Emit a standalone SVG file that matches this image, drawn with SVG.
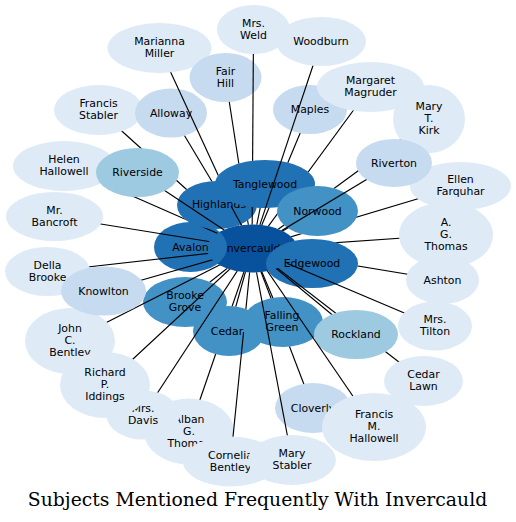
<svg xmlns="http://www.w3.org/2000/svg" width="516" height="522" viewBox="0 0 516 522">
<style>
.c0{fill:#deebf7}.c1{fill:#c6dbef}.c2{fill:#9ecae1}.c3{fill:#4292c6}.c4{fill:#2171b5}.c5{fill:#08519c}
text{font-family:"DejaVu Sans","Liberation Sans",sans-serif;font-size:10.9px;text-anchor:middle;fill:#000}
text.title{font-family:"DejaVu Serif","Liberation Serif",serif;font-size:18.8px}
#connectors line{stroke:#000;stroke-width:1.15;fill:none}
mask rect{fill:#fff}
mask ellipse{fill:#000}
</style>
<defs>
<mask id="m-inv" maskUnits="userSpaceOnUse" x="0" y="0" width="516" height="522"><rect width="516" height="522"/><ellipse cx="252" cy="248.5" rx="45" ry="24"/></mask>
<mask id="m-fst" maskUnits="userSpaceOnUse" x="0" y="0" width="516" height="522"><rect width="516" height="522"/><ellipse cx="98.5" cy="110" rx="44.5" ry="25"/><ellipse cx="137.5" cy="172.5" rx="41.5" ry="24.5"/><ellipse cx="217" cy="205" rx="40" ry="24"/></mask>
<mask id="m-all" maskUnits="userSpaceOnUse" x="0" y="0" width="516" height="522"><rect width="516" height="522"/><ellipse cx="171" cy="113" rx="36" ry="24.5"/><ellipse cx="217" cy="205" rx="40" ry="24"/><ellipse cx="265" cy="184" rx="50" ry="24"/></mask>
<mask id="m-mar" maskUnits="userSpaceOnUse" x="0" y="0" width="516" height="522"><rect width="516" height="522"/><ellipse cx="159.5" cy="48" rx="52" ry="25"/><ellipse cx="265" cy="184" rx="50" ry="24"/><ellipse cx="217" cy="205" rx="40" ry="24"/></mask>
<mask id="m-fai" maskUnits="userSpaceOnUse" x="0" y="0" width="516" height="522"><rect width="516" height="522"/><ellipse cx="225.5" cy="77.5" rx="36" ry="24.5"/><ellipse cx="265" cy="184" rx="50" ry="24"/><ellipse cx="217" cy="205" rx="40" ry="24"/></mask>
<mask id="m-wel" maskUnits="userSpaceOnUse" x="0" y="0" width="516" height="522"><rect width="516" height="522"/><ellipse cx="253.5" cy="29.5" rx="36.5" ry="24.5"/><ellipse cx="265" cy="184" rx="50" ry="24"/></mask>
<mask id="m-map" maskUnits="userSpaceOnUse" x="0" y="0" width="516" height="522"><rect width="516" height="522"/><ellipse cx="310" cy="109.5" rx="37" ry="24.5"/><ellipse cx="265" cy="184" rx="50" ry="24"/></mask>
<mask id="m-woo" maskUnits="userSpaceOnUse" x="0" y="0" width="516" height="522"><rect width="516" height="522"/><ellipse cx="321" cy="41.5" rx="45" ry="24.5"/></mask>
<mask id="m-mag" maskUnits="userSpaceOnUse" x="0" y="0" width="516" height="522"><rect width="516" height="522"/><ellipse cx="370.5" cy="87" rx="53.5" ry="25"/><ellipse cx="265" cy="184" rx="50" ry="24"/><ellipse cx="317.5" cy="211" rx="40.5" ry="25"/></mask>
<mask id="m-kir" maskUnits="userSpaceOnUse" x="0" y="0" width="516" height="522"><rect width="516" height="522"/><ellipse cx="429" cy="119" rx="36" ry="34"/><ellipse cx="394" cy="163" rx="38" ry="24"/><ellipse cx="317.5" cy="211" rx="40.5" ry="25"/></mask>
<mask id="m-ell" maskUnits="userSpaceOnUse" x="0" y="0" width="516" height="522"><rect width="516" height="522"/><ellipse cx="460.5" cy="186" rx="50.5" ry="24"/><ellipse cx="317.5" cy="211" rx="40.5" ry="25"/></mask>
<mask id="m-rvt" maskUnits="userSpaceOnUse" x="0" y="0" width="516" height="522"><rect width="516" height="522"/><ellipse cx="394" cy="163" rx="38" ry="24"/></mask>
<mask id="m-nor" maskUnits="userSpaceOnUse" x="0" y="0" width="516" height="522"><rect width="516" height="522"/><ellipse cx="317.5" cy="211" rx="40.5" ry="25"/></mask>
<mask id="m-tan" maskUnits="userSpaceOnUse" x="0" y="0" width="516" height="522"><rect width="516" height="522"/><ellipse cx="265" cy="184" rx="50" ry="24"/></mask>
<mask id="m-rsd" maskUnits="userSpaceOnUse" x="0" y="0" width="516" height="522"><rect width="516" height="522"/><ellipse cx="137.5" cy="172.5" rx="41.5" ry="24.5"/></mask>
<mask id="m-hel" maskUnits="userSpaceOnUse" x="0" y="0" width="516" height="522"><rect width="516" height="522"/><ellipse cx="64" cy="166" rx="51" ry="25"/><ellipse cx="137.5" cy="172.5" rx="41.5" ry="24.5"/><ellipse cx="217" cy="205" rx="40" ry="24"/></mask>
<mask id="m-ban" maskUnits="userSpaceOnUse" x="0" y="0" width="516" height="522"><rect width="516" height="522"/><ellipse cx="54.5" cy="216.5" rx="48.5" ry="24.5"/></mask>
<mask id="m-del" maskUnits="userSpaceOnUse" x="0" y="0" width="516" height="522"><rect width="516" height="522"/><ellipse cx="47.5" cy="271.5" rx="42.5" ry="24.5"/><ellipse cx="103.5" cy="291" rx="42.5" ry="24.5"/></mask>
<mask id="m-kno" maskUnits="userSpaceOnUse" x="0" y="0" width="516" height="522"><rect width="516" height="522"/><ellipse cx="103.5" cy="291" rx="42.5" ry="24.5"/></mask>
<mask id="m-joh" maskUnits="userSpaceOnUse" x="0" y="0" width="516" height="522"><rect width="516" height="522"/><ellipse cx="70" cy="341" rx="45" ry="33"/><ellipse cx="103.5" cy="291" rx="42.5" ry="24.5"/></mask>
<mask id="m-bro" maskUnits="userSpaceOnUse" x="0" y="0" width="516" height="522"><rect width="516" height="522"/><ellipse cx="185" cy="302" rx="42" ry="25"/></mask>
<mask id="m-ric" maskUnits="userSpaceOnUse" x="0" y="0" width="516" height="522"><rect width="516" height="522"/><ellipse cx="105" cy="385" rx="45" ry="33"/></mask>
<mask id="m-dav" maskUnits="userSpaceOnUse" x="0" y="0" width="516" height="522"><rect width="516" height="522"/><ellipse cx="143" cy="415" rx="36.5" ry="24.5"/><ellipse cx="105" cy="385" rx="45" ry="33"/></mask>
<mask id="m-alb" maskUnits="userSpaceOnUse" x="0" y="0" width="516" height="522"><rect width="516" height="522"/><ellipse cx="189" cy="431.5" rx="45" ry="33"/><ellipse cx="229" cy="331" rx="36" ry="25"/><ellipse cx="143" cy="415" rx="36.5" ry="24.5"/><ellipse cx="230.5" cy="461.5" rx="47.5" ry="25"/></mask>
<mask id="m-cor" maskUnits="userSpaceOnUse" x="0" y="0" width="516" height="522"><rect width="516" height="522"/><ellipse cx="229" cy="331" rx="36" ry="25"/><rect x="234" y="332" width="22" height="30"/><ellipse cx="230.5" cy="461.5" rx="47.5" ry="25"/><ellipse cx="292" cy="460" rx="44" ry="25"/></mask>
<mask id="m-ced" maskUnits="userSpaceOnUse" x="0" y="0" width="516" height="522"><rect width="516" height="522"/><ellipse cx="229" cy="331" rx="36" ry="25"/></mask>
<mask id="m-mst" maskUnits="userSpaceOnUse" x="0" y="0" width="516" height="522"><rect width="516" height="522"/><ellipse cx="292" cy="460" rx="44" ry="25"/></mask>
<mask id="m-clo" maskUnits="userSpaceOnUse" x="0" y="0" width="516" height="522"><rect width="516" height="522"/><ellipse cx="313" cy="408" rx="38" ry="25"/><ellipse cx="283" cy="322" rx="40" ry="25"/><ellipse cx="374" cy="427" rx="52" ry="34"/></mask>
<mask id="m-fmh" maskUnits="userSpaceOnUse" x="0" y="0" width="516" height="522"><rect width="516" height="522"/><ellipse cx="374" cy="427" rx="52" ry="34"/></mask>
<mask id="m-fal" maskUnits="userSpaceOnUse" x="0" y="0" width="516" height="522"><rect width="516" height="522"/><ellipse cx="283" cy="322" rx="40" ry="25"/></mask>
<mask id="m-roc" maskUnits="userSpaceOnUse" x="0" y="0" width="516" height="522"><rect width="516" height="522"/><ellipse cx="356" cy="334.5" rx="42" ry="24.5"/></mask>
<mask id="m-cla" maskUnits="userSpaceOnUse" x="0" y="0" width="516" height="522"><rect width="516" height="522"/><ellipse cx="423.5" cy="381" rx="39.5" ry="25"/><ellipse cx="356" cy="334.5" rx="42" ry="24.5"/></mask>
<mask id="m-til" maskUnits="userSpaceOnUse" x="0" y="0" width="516" height="522"><rect width="516" height="522"/><ellipse cx="435" cy="326" rx="37" ry="24.5"/></mask>
<mask id="m-ash" maskUnits="userSpaceOnUse" x="0" y="0" width="516" height="522"><rect width="516" height="522"/><ellipse cx="442.5" cy="280" rx="36.5" ry="24"/><ellipse cx="312" cy="263.5" rx="46" ry="24.5"/></mask>
<mask id="m-agt" maskUnits="userSpaceOnUse" x="0" y="0" width="516" height="522"><rect width="516" height="522"/><ellipse cx="446" cy="235" rx="47" ry="33"/><ellipse cx="312" cy="263.5" rx="46" ry="24.5"/></mask>
</defs>
<rect width="516" height="522" fill="#fff"/>
<g id="nodes">
<g id="n-invercauld"><ellipse class="c5" cx="252" cy="248.5" rx="45" ry="24"/><text x="252" y="252.1">Invercauld</text></g>
<g id="n-francis-stabler"><ellipse class="c0" cx="98.5" cy="110" rx="44.5" ry="25"/><text x="98.5" y="107.3">Francis</text><text x="98.5" y="119.3">Stabler</text></g>
<g id="n-alloway"><ellipse class="c1" cx="171" cy="113" rx="36" ry="24.5"/><text x="171" y="116.6">Alloway</text></g>
<g id="n-marianna-miller"><ellipse class="c0" cx="159.5" cy="48" rx="52" ry="25"/><text x="159.5" y="45.3">Marianna</text><text x="159.5" y="57.3">Miller</text></g>
<g id="n-fair-hill"><ellipse class="c1" cx="225.5" cy="77.5" rx="36" ry="24.5"/><text x="225.5" y="74.8">Fair</text><text x="225.5" y="86.8">Hill</text></g>
<g id="n-mrs-weld"><ellipse class="c0" cx="253.5" cy="29.5" rx="36.5" ry="24.5"/><text x="253.5" y="26.8">Mrs.</text><text x="253.5" y="38.8">Weld</text></g>
<g id="n-maples"><ellipse class="c1" cx="310" cy="109.5" rx="37" ry="24.5"/><text x="310" y="113.1">Maples</text></g>
<g id="n-margaret-magruder"><ellipse class="c0" cx="370.5" cy="87" rx="53.5" ry="25"/><text x="370.5" y="84.3">Margaret</text><text x="370.5" y="96.3">Magruder</text></g>
<g id="n-mary-t-kirk"><ellipse class="c0" cx="429" cy="119" rx="36" ry="34"/><text x="429" y="110.3">Mary</text><text x="429" y="122.3">T.</text><text x="429" y="134.3">Kirk</text></g>
<g id="n-ellen-farquhar"><ellipse class="c0" cx="460.5" cy="186" rx="50.5" ry="24"/><text x="460.5" y="183.3">Ellen</text><text x="460.5" y="195.3">Farquhar</text></g>
<g id="n-avalon"><ellipse class="c4" cx="190.5" cy="247" rx="36.5" ry="25"/><text x="190.5" y="250.6">Avalon</text></g>
<g id="n-brooke-grove"><ellipse class="c3" cx="185" cy="302" rx="42" ry="25"/><text x="185" y="299.3">Brooke</text><text x="185" y="311.3">Grove</text></g>
<g id="n-helen-hallowell"><ellipse class="c0" cx="64" cy="166" rx="51" ry="25"/><text x="64" y="163.3">Helen</text><text x="64" y="175.3">Hallowell</text></g>
<g id="n-mr-bancroft"><ellipse class="c0" cx="54.5" cy="216.5" rx="48.5" ry="24.5"/><text x="54.5" y="213.8">Mr.</text><text x="54.5" y="225.8">Bancroft</text></g>
<g id="n-della-brooke"><ellipse class="c0" cx="47.5" cy="271.5" rx="42.5" ry="24.5"/><text x="47.5" y="268.8">Della</text><text x="47.5" y="280.8">Brooke</text></g>
<g id="n-john-c-bentley"><ellipse class="c0" cx="70" cy="341" rx="45" ry="33"/><text x="70" y="332.3">John</text><text x="70" y="344.3">C.</text><text x="70" y="356.3">Bentley</text></g>
<g id="n-knowlton"><ellipse class="c1" cx="103.5" cy="291" rx="42.5" ry="24.5"/><text x="103.5" y="294.6">Knowlton</text></g>
<g id="n-highlands"><ellipse class="c4" cx="217" cy="205" rx="40" ry="24"/><text x="219" y="208.4">Highlands</text></g>
<g id="n-riverside"><ellipse class="c2" cx="137.5" cy="172.5" rx="41.5" ry="24.5"/><text x="137.5" y="176.1">Riverside</text></g>
<g id="n-tanglewood"><ellipse class="c4" cx="265" cy="184" rx="50" ry="24"/><text x="265" y="187.6">Tanglewood</text></g>
<g id="n-woodburn"><ellipse class="c0" cx="321" cy="41.5" rx="45" ry="24.5"/><text x="321" y="45.1">Woodburn</text></g>
<g id="n-norwood"><ellipse class="c3" cx="317.5" cy="211" rx="40.5" ry="25"/><text x="317.5" y="214.6">Norwood</text></g>
<g id="n-riverton"><ellipse class="c1" cx="394" cy="163" rx="38" ry="24"/><text x="394" y="166.6">Riverton</text></g>
<g id="n-a-g-thomas"><ellipse class="c0" cx="446" cy="235" rx="47" ry="33"/><text x="446" y="226.3">A.</text><text x="446" y="238.3">G.</text><text x="446" y="250.3">Thomas</text></g>
<g id="n-ashton"><ellipse class="c0" cx="442.5" cy="280" rx="36.5" ry="24"/><text x="442.5" y="283.6">Ashton</text></g>
<g id="n-edgewood"><ellipse class="c4" cx="312" cy="263.5" rx="46" ry="24.5"/><text x="312" y="267.1">Edgewood</text></g>
<g id="n-mrs-tilton"><ellipse class="c0" cx="435" cy="326" rx="37" ry="24.5"/><text x="435" y="323.3">Mrs.</text><text x="435" y="335.3">Tilton</text></g>
<g id="n-cedar-lawn"><ellipse class="c0" cx="423.5" cy="381" rx="39.5" ry="25"/><text x="423.5" y="378.3">Cedar</text><text x="423.5" y="390.3">Lawn</text></g>
<g id="n-cloverly"><ellipse class="c1" cx="313" cy="408" rx="38" ry="25"/><text x="313" y="411.6">Cloverly</text></g>
<g id="n-falling-green"><ellipse class="c3" cx="283" cy="322" rx="40" ry="25"/><text x="282" y="319.3">Falling</text><text x="282" y="331.3">Green</text></g>
<g id="n-rockland"><ellipse class="c2" cx="356" cy="334.5" rx="42" ry="24.5"/><text x="356" y="338.1">Rockland</text></g>
<g id="n-francis-m-hallowell"><ellipse class="c0" cx="374" cy="427" rx="52" ry="34"/><text x="374" y="418.3">Francis</text><text x="374" y="430.3">M.</text><text x="374" y="442.3">Hallowell</text></g>
<g id="n-alban-g-thomas"><ellipse class="c0" cx="189" cy="431.5" rx="45" ry="33"/><text x="189" y="422.8">Alban</text><text x="189" y="434.8">G.</text><text x="189" y="446.8">Thomas</text></g>
<g id="n-cornelia-bentley"><ellipse class="c0" cx="230.5" cy="461.5" rx="47.5" ry="25"/><text x="230.5" y="458.8">Cornelia</text><text x="230.5" y="470.8">Bentley</text></g>
<g id="n-cedar"><ellipse class="c3" cx="229" cy="331" rx="36" ry="25"/><text x="227" y="334.6">Cedar</text></g>
<g id="n-mary-stabler"><ellipse class="c0" cx="292" cy="460" rx="44" ry="25"/><text x="292" y="457.3">Mary</text><text x="292" y="469.3">Stabler</text></g>
<g id="n-mrs-davis"><ellipse class="c0" cx="143" cy="415" rx="36.5" ry="24.5"/><text x="143" y="412.3">Mrs.</text><text x="143" y="424.3">Davis</text></g>
<g id="n-richard-p-iddings"><ellipse class="c0" cx="105" cy="385" rx="45" ry="33"/><text x="105" y="376.3">Richard</text><text x="105" y="388.3">P.</text><text x="105" y="400.3">Iddings</text></g>
</g>
<g id="connectors" mask="url(#m-inv)">
<line x1="252" y1="248.5" x2="98.5" y2="110" mask="url(#m-fst)"/>
<line x1="252" y1="248.5" x2="171" y2="113" mask="url(#m-all)"/>
<line x1="252" y1="248.5" x2="159.5" y2="48" mask="url(#m-mar)"/>
<line x1="252" y1="248.5" x2="225.5" y2="77.5" mask="url(#m-fai)"/>
<line x1="252" y1="248.5" x2="253.5" y2="29.5" mask="url(#m-wel)"/>
<line x1="252" y1="248.5" x2="310" y2="109.5" mask="url(#m-map)"/>
<line x1="252" y1="248.5" x2="321" y2="41.5" mask="url(#m-woo)"/>
<line x1="252" y1="248.5" x2="370.5" y2="87" mask="url(#m-mag)"/>
<line x1="252" y1="248.5" x2="429" y2="119" mask="url(#m-kir)"/>
<line x1="252" y1="248.5" x2="460.5" y2="186" mask="url(#m-ell)"/>
<line x1="252" y1="248.5" x2="394" y2="163" mask="url(#m-rvt)"/>
<line x1="252" y1="248.5" x2="317.5" y2="211" mask="url(#m-nor)"/>
<line x1="252" y1="248.5" x2="265" y2="184" mask="url(#m-tan)"/>
<line x1="231" y1="206" x2="242.5" y2="227"/>
<line x1="252" y1="248.5" x2="137.5" y2="172.5" mask="url(#m-rsd)"/>
<line x1="252" y1="248.5" x2="64" y2="166" mask="url(#m-hel)"/>
<line x1="252" y1="248.5" x2="54.5" y2="216.5" mask="url(#m-ban)"/>
<line x1="252" y1="248.5" x2="47.5" y2="271.5" mask="url(#m-del)"/>
<line x1="252" y1="248.5" x2="103.5" y2="291" mask="url(#m-kno)"/>
<line x1="252" y1="248.5" x2="70" y2="341" mask="url(#m-joh)"/>
<line x1="252" y1="248.5" x2="185" y2="302" mask="url(#m-bro)"/>
<line x1="252" y1="248.5" x2="105" y2="385" mask="url(#m-ric)"/>
<line x1="252" y1="248.5" x2="143" y2="415" mask="url(#m-dav)"/>
<line x1="252" y1="248.5" x2="189" y2="431.5" mask="url(#m-alb)"/>
<line x1="252" y1="248.5" x2="230.5" y2="461.5" mask="url(#m-cor)"/>
<line x1="252" y1="248.5" x2="229" y2="331" mask="url(#m-ced)"/>
<line x1="252" y1="248.5" x2="292" y2="460" mask="url(#m-mst)"/>
<line x1="252" y1="248.5" x2="313" y2="408" mask="url(#m-clo)"/>
<line x1="252" y1="248.5" x2="374" y2="427" mask="url(#m-fmh)"/>
<line x1="252" y1="248.5" x2="283" y2="322" mask="url(#m-fal)"/>
<line x1="252" y1="248.5" x2="356" y2="334.5" mask="url(#m-roc)"/>
<line x1="252" y1="248.5" x2="423.5" y2="381" mask="url(#m-cla)"/>
<line x1="252" y1="248.5" x2="435" y2="326" mask="url(#m-til)"/>
<line x1="252" y1="248.5" x2="442.5" y2="280" mask="url(#m-ash)"/>
<line x1="252" y1="248.5" x2="446" y2="235" mask="url(#m-agt)"/>
</g>
<text class="title" x="257.5" y="506">Subjects Mentioned Frequently With Invercauld</text>
</svg>
